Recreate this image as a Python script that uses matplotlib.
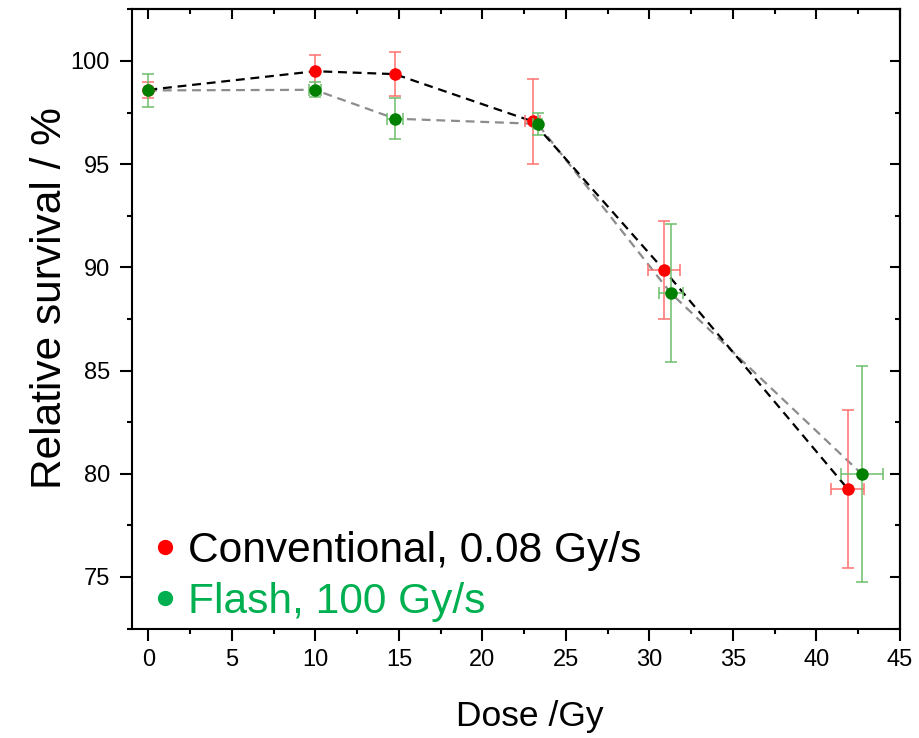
import matplotlib
matplotlib.use("Agg")
import matplotlib.pyplot as plt
from matplotlib.lines import Line2D
from matplotlib.ticker import MultipleLocator

plt.rcParams['font.family'] = ['Liberation Sans', 'DejaVu Sans']

# Conventional, 0.08 Gy/s
conv_dose = [0.0, 10.0, 14.75, 23.0, 30.86, 41.88]
conv_surv = [98.6, 99.5, 99.36, 97.07, 89.88, 79.26]
conv_yerr = [0.4, 0.8, 1.07, 2.07, 2.36, 3.83]
conv_xerr = [0.0, 0.0, 0.0, 0.43, 0.96, 0.98]

# Flash, 100 Gy/s
flash_dose = [-0.02, 9.95, 14.77, 23.3, 31.28, 42.72]
flash_surv = [98.57, 98.6, 97.2, 96.95, 88.75, 79.98]
flash_yerr = [0.79, 0.36, 1.0, 0.53, 3.35, 5.24]
flash_xerr = [0.0, 0.36, 0.47, 0.25, 0.73, 1.28]

labels = ["Conventional, 0.08 Gy/s", "Flash, 100 Gy/s"]

fig = plt.figure(figsize=(9.19, 7.38), dpi=100)
ax = fig.add_axes([0.1433, 0.1483, 0.8360, 0.8391])

dash = (0, (4, 2.6))
ax.plot(flash_dose, flash_surv, color='#8c8c8c', lw=1.6, linestyle=dash, zorder=2)
ax.plot(conv_dose, conv_surv, color='black', lw=1.6, linestyle=dash, zorder=2)

ax.errorbar(conv_dose, conv_surv, yerr=conv_yerr, xerr=conv_xerr, fmt='none',
            ecolor='#ff7070', elinewidth=1.1, capsize=4.3, capthick=1.1, zorder=3)
ax.plot(conv_dose, conv_surv, 'o', color='#ff0000', ms=9, mec='none', zorder=4)
ax.errorbar(flash_dose, flash_surv, yerr=flash_yerr, xerr=flash_xerr, fmt='none',
            ecolor='#6cbf6c', elinewidth=1.1, capsize=4.3, capthick=1.1, zorder=5)
ax.plot(flash_dose, flash_surv, 'o', color='#008000', ms=9, mec='none', zorder=6)

ax.set_xlim(-1.0, 45.0)
ax.set_ylim(72.5, 102.5)
ax.xaxis.set_major_locator(MultipleLocator(5))
ax.xaxis.set_minor_locator(MultipleLocator(2.5))
ax.yaxis.set_major_locator(MultipleLocator(5))
ax.yaxis.set_minor_locator(MultipleLocator(2.5))
ax.set_yticks([75, 80, 85, 90, 95, 100])

for s in ax.spines.values():
    s.set_linewidth(1.5)

ax.tick_params(axis='both', which='major', direction='out', length=8.6, width=1.5,
               labelsize=17)
ax.tick_params(axis='x', which='major', pad=6)
ax.tick_params(axis='y', which='major', pad=7)
ax.tick_params(axis='both', which='minor', direction='out', length=3.6, width=1.5)
# frame ticks on top/right (inward, no labels)
ax2 = ax.secondary_xaxis('top')
ax2.xaxis.set_major_locator(MultipleLocator(5))
ax2.xaxis.set_minor_locator(MultipleLocator(2.5))
ax2.tick_params(which='major', direction='in', length=7.5, width=1.5, labeltop=False)
ax2.tick_params(which='minor', direction='in', length=3.6, width=1.5)
ax2.spines['top'].set_linewidth(1.5)
ay2 = ax.secondary_yaxis('right')
ay2.yaxis.set_major_locator(MultipleLocator(5))
ay2.yaxis.set_minor_locator(MultipleLocator(2.5))
ay2.tick_params(which='major', direction='in', length=7.5, width=1.5, labelright=False)
ay2.tick_params(which='minor', direction='in', length=3.6, width=1.5)
ay2.spines['right'].set_linewidth(1.5)

ax.set_xlabel("Dose /Gy", fontsize=25.5)
ax.xaxis.set_label_coords(0.518, -0.116)
ax.set_ylabel("Relative survival / %", fontsize=30.5)
ax.yaxis.set_label_coords(-0.080, 0.533)

handles = [Line2D([], [], marker='o', ls='none', color='#ff0000', ms=11, mec='none'),
           Line2D([], [], marker='o', ls='none', color='#00b050', ms=11, mec='none')]
leg = ax.legend(handles, labels, loc='lower left', bbox_to_anchor=(-0.012, -0.037),
                frameon=False, fontsize=30.6, handlelength=0.6, handletextpad=0.25,
                labelspacing=0.25, borderaxespad=0.3, labelcolor=['black', '#00b050'])

fig.savefig("out.png", dpi=100)
